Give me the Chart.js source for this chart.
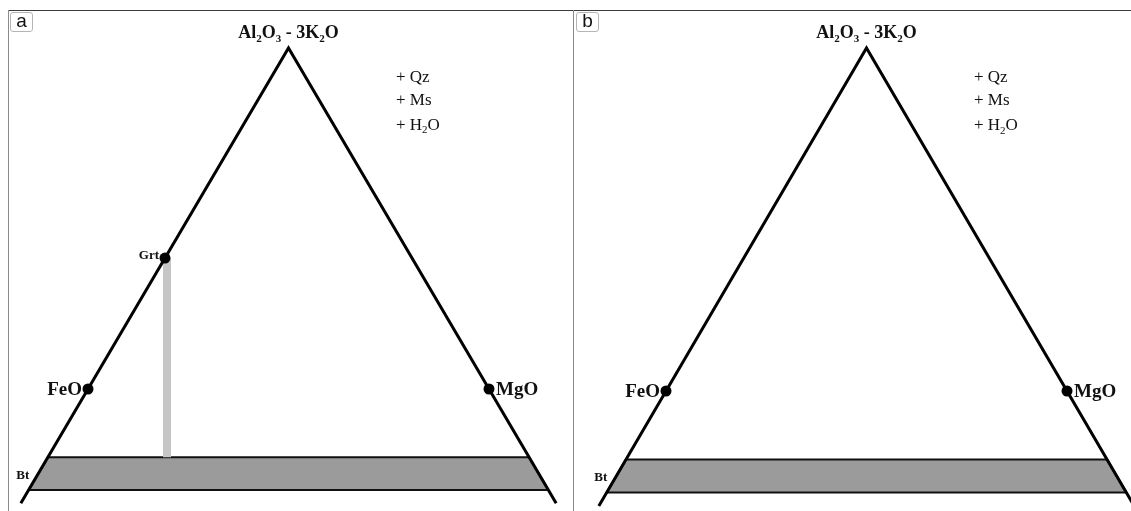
<!DOCTYPE html>
<html>
<head>
<meta charset="utf-8">
<script src="https://cdn.jsdelivr.net/npm/chart.js@4/dist/chart.umd.min.js"></script>
<style>
  html, body { margin: 0; padding: 0; background: #fff; overflow: hidden; }
  #fig { position: relative; width: 1131px; height: 511px; }
  .rule { position: absolute; }
  .tag {
    position: absolute; top: 12px; width: 23px; height: 20px; box-sizing: border-box;
    border: 1px solid #b5b5b5; border-radius: 3px; background: #fff;
    font: 19px "Liberation Sans", Arial, sans-serif; line-height: 16px; text-align: center; color: #111;
  }
  canvas { position: absolute; top: 11px; }
</style>
</head>
<body>
<div id="fig">
  <div class="rule" style="left:8px;top:10px;width:1123px;height:1px;background:#3c3c3c"></div>
  <div class="rule" style="left:8px;top:10px;width:1px;height:501px;background:#8c8c8c"></div>
  <div class="rule" style="left:573px;top:10px;width:1px;height:501px;background:#8c8c8c"></div>
  <canvas id="panelA" width="564" height="500" style="left:9px"></canvas>
  <canvas id="panelB" width="556" height="500" style="left:575px"></canvas>
  <div class="tag" style="left:10px">a</div>
  <div class="tag" style="left:576px">b</div>
</div>
<script>
// AFM projection: x = Mg/(Fe+Mg) along the FeO–MgO join, a = A-value (apex = 1, join = 0).
// Biotite plots below the join (negative A).
const apexLabel = 'Al_2O_3 - 3K_2O';
const apexPoint = [0.5, 1];
const phaseNames = ['FeO', 'MgO', 'Grt'];
const phaseX = [0, 1, 0.192];
const phaseA = [0, 0, 0.384];
const sideEndA = -0.335;          // lower end of the two triangle sides
const btTopA = -0.2;               // biotite field, upper limit
const btBottomA = -0.296;          // biotite field, lower limit
const grtTieX = 0.197;             // garnet–biotite tie
const assemblage = ['+ Qz', '+ Ms', '+ H_2O'];

const SERIF = '"Liberation Serif", "DejaVu Serif", "Times New Roman", serif';

// point on a side of the triangle at a given A-value
function sideX(cornerX, cornerA, a) {
  return cornerX + (apexPoint[0] - cornerX) * (a - cornerA) / (apexPoint[1] - cornerA);
}
const leftX = a => sideX(phaseX[0], phaseA[0], a);
const rightX = a => sideX(phaseX[1], phaseA[1], a);

function parseRich(str) {
  const segs = []; let buf = '';
  for (let i = 0; i < str.length; i++) {
    if (str[i] === '_' && i + 1 < str.length) {
      if (buf) { segs.push({ t: buf, sub: false }); buf = ''; }
      segs.push({ t: str[i + 1], sub: true }); i++;
    } else buf += str[i];
  }
  if (buf) segs.push({ t: buf, sub: false });
  return segs;
}

function drawRich(ctx, str, x, y, size, weight, align) {
  const segs = parseRich(str);
  const subSize = Math.round(size * 0.62);
  let w = 0;
  segs.forEach(s => {
    ctx.font = `${weight} ${s.sub ? subSize : size}px ${SERIF}`;
    s.w = ctx.measureText(s.t).width; w += s.w;
  });
  let cx = align === 'center' ? x - w / 2 : align === 'right' ? x - w : x;
  ctx.textAlign = 'left'; ctx.textBaseline = 'alphabetic'; ctx.fillStyle = '#111';
  segs.forEach(s => {
    ctx.font = `${weight} ${s.sub ? subSize : size}px ${SERIF}`;
    ctx.fillText(s.t, cx, s.sub ? y + size * 0.2 : y);
    cx += s.w;
  });
}

const labelPlugin = {
  id: 'afmLabels',
  afterDatasetsDraw(chart) {
    const ctx = chart.ctx, sx = chart.scales.x, sy = chart.scales.y;
    const px = v => sx.getPixelForValue(v), py = v => sy.getPixelForValue(v);
    const cfg = chart.options.plugins.afmLabels;
    ctx.save();
    // apex label
    drawRich(ctx, apexLabel, px(apexPoint[0]), py(apexPoint[1]) - 10, 18, 'bold', 'center');
    // phase labels
    phaseNames.forEach((name, i) => {
      if (!cfg.phases.includes(name)) return;
      const x = px(phaseX[i]), y = py(phaseA[i]);
      if (name === 'FeO') drawRich(ctx, name, x - 6, y + 6, 19, 'bold', 'right');
      if (name === 'MgO') drawRich(ctx, name, x + 7, y + 6, 19, 'bold', 'left');
      if (name === 'Grt') drawRich(ctx, name, x - 6, y + 1, 13, 'bold', 'right');
    });
    // biotite field label
    const midA = (btTopA + btBottomA) / 2;
    drawRich(ctx, 'Bt', px(leftX(midA)) - 9, py(midA) + 5, 13, 'bold', 'right');
    // excess phases
    assemblage.forEach((t, i) => {
      drawRich(ctx, t, px(0.768), py(0.9) + [0, 23, 48][i], 17, 'normal', 'left');
    });
    ctx.restore();
  }
};

function makePanel(id, xr, yr, phases) {
  const idx = phaseNames.map((n, i) => i).filter(i => phases.includes(phaseNames[i]));
  const datasets = [
    {
      // triangle sides meeting at the apex
      type: 'line', order: 1,
      data: [{ x: leftX(sideEndA), y: sideEndA }, { x: apexPoint[0], y: apexPoint[1] }, { x: rightX(sideEndA), y: sideEndA }],
      borderColor: '#000', borderWidth: 3, pointRadius: 0, borderJoinStyle: 'miter', fill: false, tension: 0
    },
    {
      // biotite field
      type: 'line', order: 3,
      data: [{ x: leftX(btTopA), y: btTopA }, { x: rightX(btTopA), y: btTopA },
             { x: rightX(btBottomA), y: btBottomA }, { x: leftX(btBottomA), y: btBottomA },
             { x: leftX(btTopA), y: btTopA }],
      borderColor: '#111', borderWidth: 2, backgroundColor: '#9b9b9b', fill: 'shape', pointRadius: 0, tension: 0
    },
    {
      // phases
      type: 'scatter', order: 0,
      data: idx.map(i => ({ x: phaseX[i], y: phaseA[i] })),
      pointRadius: 5.5, pointBackgroundColor: '#000', pointBorderWidth: 0, borderColor: '#000'
    }
  ];
  if (phases.includes('Grt')) {
    const g = phaseNames.indexOf('Grt');
    datasets.push({
      type: 'line', order: 2,
      data: [{ x: grtTieX, y: phaseA[g] }, { x: grtTieX, y: btTopA }],
      borderColor: '#c6c6c6', borderWidth: 8, borderCapStyle: 'butt', pointRadius: 0, fill: false
    });
  }
  return new Chart(document.getElementById(id), {
    type: 'scatter',
    data: { datasets },
    options: {
      responsive: false, animation: false, events: [],
      layout: { padding: 0, autoPadding: false },
      scales: {
        x: { type: 'linear', min: xr[0], max: xr[1], display: false },
        y: { type: 'linear', min: yr[0], max: yr[1], display: false }
      },
      plugins: { legend: { display: false }, tooltip: { enabled: false }, afmLabels: { phases } }
    },
    plugins: [labelPlugin]
  });
}

makePanel('panelA', [-0.197, 1.2095], [-0.3578, 1.1085], ['FeO', 'MgO', 'Grt']);
makePanel('panelB', [-0.2269, 1.1596], [-0.3499, 1.1079], ['FeO', 'MgO']);
</script>
</body>
</html>
